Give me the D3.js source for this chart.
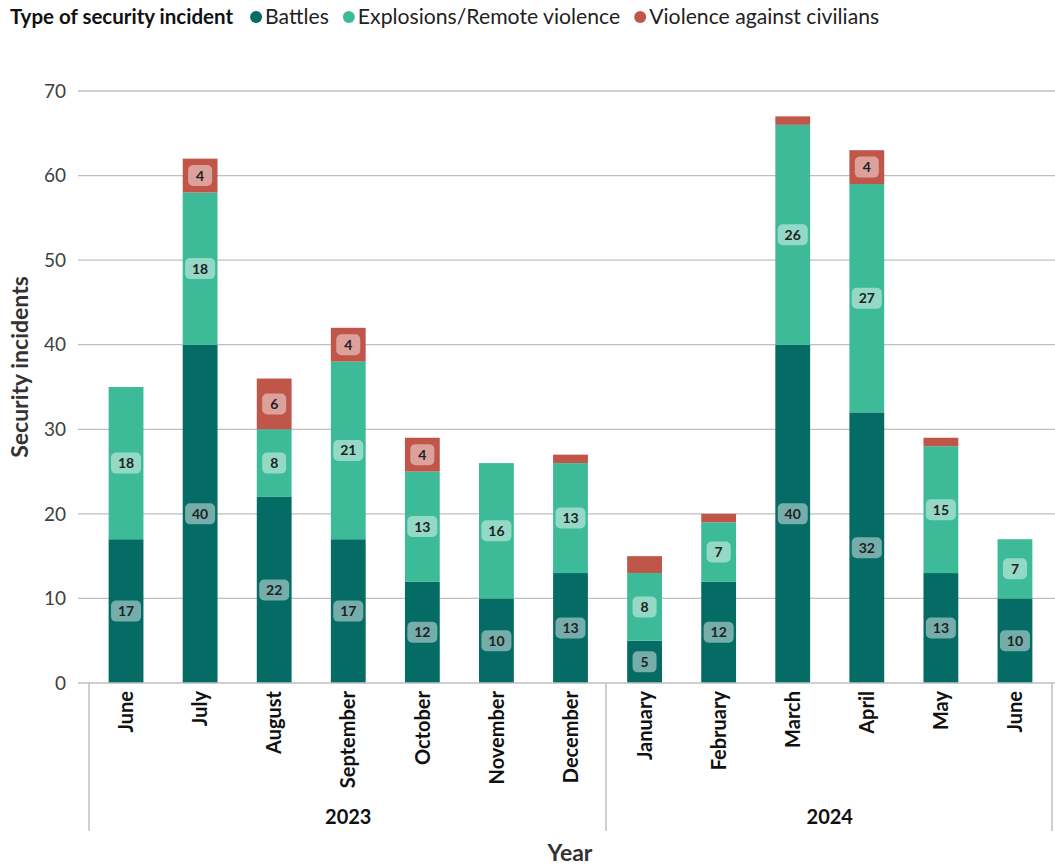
<!DOCTYPE html>
<html><head><meta charset="utf-8">
<script src="https://cdn.jsdelivr.net/npm/d3@7"></script>
<style>body{margin:0;background:#fff;font-family:Lato,"Open Sans",sans-serif;}</style>
</head><body><svg id="c" width="1055" height="867"></svg>
<script>
const months = ["June","July","August","September","October","November","December","January","February","March","April","May","June"];
const years = ["2023","2023","2023","2023","2023","2023","2023","2024","2024","2024","2024","2024","2024"];
const battles = [17,40,22,17,12,10,13,5,12,40,32,13,10];
const explosions = [18,18,8,21,13,16,13,8,7,26,27,15,7];
const violence = [0,4,6,4,4,0,1,2,1,1,4,1,0];
const seriesNames = ["Battles","Explosions/Remote violence","Violence against civilians"];
const colors = ["#046b65","#3dbb98","#c0554a"];
const yTicks = [0,10,20,30,40,50,60,70];

const svg = d3.select("#c");
const x = d3.scaleBand().domain(d3.range(months.length)).range([89,1052]).paddingInner(0.53).paddingOuter(0.265);
const y = d3.scaleLinear().domain([0,70]).range([683,91]);

const rows = months.map((m,i)=>({i, Battles:battles[i], "Explosions/Remote violence":explosions[i], "Violence against civilians":violence[i]}));
const stack = d3.stack().keys(seriesNames)(rows);

// grid
svg.append("g").selectAll("line").data(yTicks.slice(1)).join("line")
  .attr("x1",78).attr("x2",1055).attr("y1",d=>y(d)).attr("y2",d=>y(d))
  .attr("stroke","#bfbfbf").attr("stroke-width",1.3);
svg.append("g").selectAll("text").data(yTicks).join("text")
  .attr("x",66).attr("y",d=>y(d)).attr("dy","0.35em").attr("text-anchor","end")
  .attr("font-size",19).attr("fill","#404040").text(d=>d);

// bars
const g = svg.append("g");
stack.forEach((s,k)=>{
  g.append("g").selectAll("rect").data(s).join("rect")
    .attr("x",d=>x(d.data.i)).attr("width",x.bandwidth())
    .attr("y",d=>y(d[1])).attr("height",d=>y(d[0])-y(d[1]))
    .attr("fill",colors[k]);
});
// labels
stack.forEach((s,k)=>{
  const lg = g.append("g").selectAll("g").data(s.filter(d=>d[1]-d[0]>=4)).join("g")
    .attr("transform",d=>`translate(${x(d.data.i)+x.bandwidth()/2},${y((d[0]+d[1])/2)})`);
  lg.append("rect").attr("x",d=>(d[1]-d[0])>=10?-15:-12).attr("width",d=>(d[1]-d[0])>=10?30:24)
    .attr("y",-10.5).attr("height",21).attr("rx",5)
    .attr("fill","rgba(255,255,255,0.45)");
  lg.append("text").attr("text-anchor","middle").attr("dy","0.36em")
    .attr("font-size",14).attr("font-weight","bold").attr("fill","#222").text(d=>d[1]-d[0]);
});

// x axis
svg.append("line").attr("x1",78).attr("x2",1055).attr("y1",683).attr("y2",683).attr("stroke","#bfbfbf").attr("stroke-width",1.5);
[89,606,1052].forEach(xx=>svg.append("line").attr("x1",xx).attr("x2",xx).attr("y1",683).attr("y2",831).attr("stroke","#bfbfbf").attr("stroke-width",1.5));
svg.append("g").selectAll("text").data(months).join("text")
  .attr("transform",(d,i)=>`translate(${x(i)+x.bandwidth()/2},691) rotate(-90)`)
  .attr("text-anchor","end").attr("dy","0.36em").attr("font-size",20).attr("font-weight","bold").attr("fill","#111")
  .text(d=>d);
const yearGroups = d3.groups(d3.range(months.length), i=>years[i]);
svg.append("g").selectAll("text").data(yearGroups).join("text")
  .attr("x",d=>(x(d[1][0])+x(d[1][d[1].length-1])+x.bandwidth())/2)
  .attr("y",824).attr("text-anchor","middle").attr("font-size",20).attr("font-weight","bold").attr("fill","#111")
  .text(d=>d[0]);
svg.append("text").attr("x",570).attr("y",861).attr("text-anchor","middle").attr("font-size",23).attr("font-weight","bold").attr("fill","#333").text("Year");
svg.append("text").attr("transform","translate(28,367) rotate(-90)").attr("text-anchor","middle").attr("font-size",23).attr("font-weight","bold").attr("fill","#333").text("Security incidents");

// legend
const leg = svg.append("g").attr("transform","translate(10,24)");
const lt = leg.append("text").attr("x",0).attr("y",0).attr("font-size",20.5).attr("font-weight","bold").attr("fill","#111").text("Type of security incident");
let lx = lt.node().getComputedTextLength()+17;
seriesNames.forEach((n,k)=>{
  leg.append("circle").attr("cx",lx+6).attr("cy",-7).attr("r",6).attr("fill",colors[k]);
  const t = leg.append("text").attr("x",lx+15).attr("y",0).attr("font-size",21.2).attr("fill","#222").text(n);
  lx += 15 + t.node().getComputedTextLength() + 14;
});
</script></body></html>
